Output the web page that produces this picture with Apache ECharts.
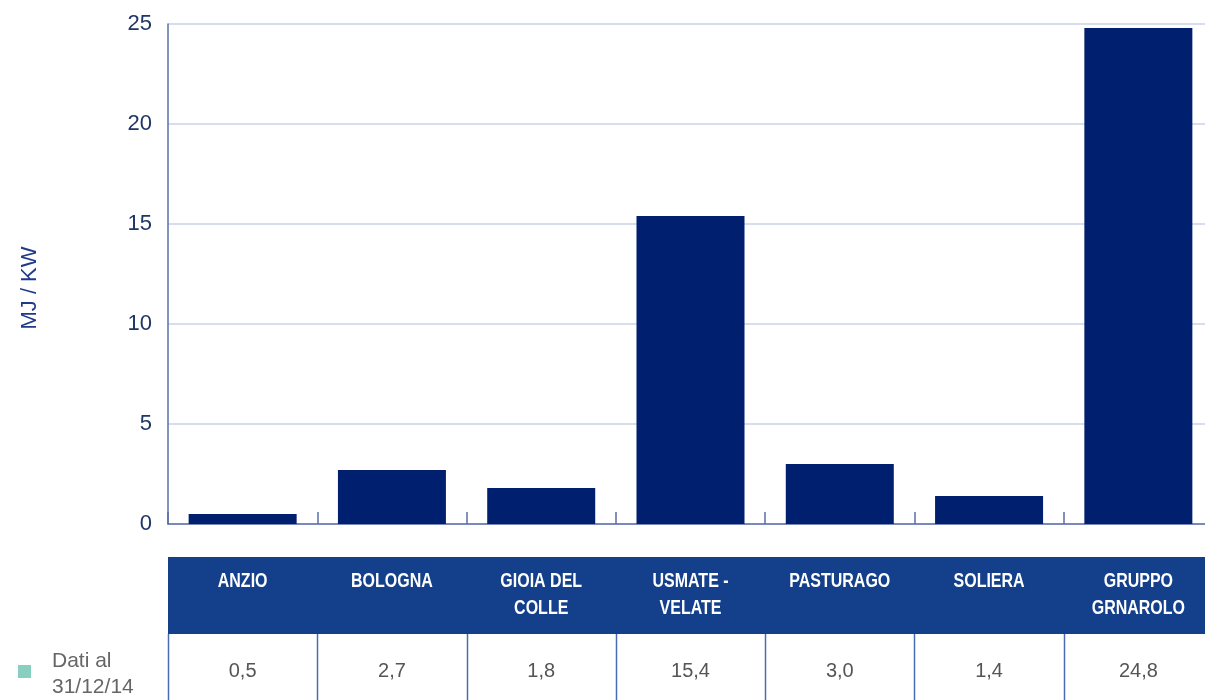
<!DOCTYPE html>
<html><head><meta charset="utf-8">
<script src="https://cdn.jsdelivr.net/npm/echarts@6/dist/echarts.min.js"></script>
<style>html,body{margin:0;padding:0;background:#fff;overflow:hidden;width:1205px;height:700px}#c{width:1213px;height:700px}</style>
</head><body><div id="c"></div>
<script>
const categories = ['ANZIO', 'BOLOGNA', 'GIOIA DEL\nCOLLE', 'USMATE -\nVELATE', 'PASTURAGO', 'SOLIERA', 'GRUPPO\nGRNAROLO'];
const values = [0.5, 2.7, 1.8, 15.4, 3.0, 1.4, 24.8];
const valueLabels = ['0,5', '2,7', '1,8', '15,4', '3,0', '1,4', '24,8'];
const yTicks = [0, 5, 10, 15, 20, 25];
const yName = 'MJ / KW';
const legendLabel = 'Dati al\n31/12/14';

const chart = echarts.init(document.getElementById('c'), null, {renderer: 'canvas'});
const axisColor = '#5b6ea8';
chart.setOption({
  animation: false,
  grid: {left: 168, top: 24, right: 0, bottom: 176, containLabel: false},
  xAxis: {
    type: 'category', data: categories,
    axisLine: {lineStyle: {color: axisColor, width: 1.5}},
    axisTick: {show: true, inside: true, length: 12, lineStyle: {color: axisColor, width: 1.5}},
    axisLabel: {show: false}
  },
  yAxis: {
    type: 'value', min: yTicks[0], max: yTicks[yTicks.length - 1], interval: yTicks[1] - yTicks[0],
    name: yName, nameLocation: 'middle', nameGap: 127,
    nameTextStyle: {color: '#1f3a8a', fontSize: 22, padding: [0, 28, 0, 0], fontFamily: 'Liberation Sans, Arial, sans-serif'},
    axisLine: {show: true, lineStyle: {color: axisColor, width: 1.5}},
    axisTick: {show: false},
    axisLabel: {color: '#1f3566', fontSize: 22, margin: 16, padding: [5, 0, 0, 0], fontFamily: 'Liberation Sans, Arial, sans-serif'},
    splitLine: {lineStyle: {color: '#c8d3e8', width: 1.5}}
  },
  series: [{
    type: 'bar', data: values, barWidth: 108,
    itemStyle: {color: '#011f6f'}
  }]
});

function drawTable() {
  const x0 = chart.convertToPixel({xAxisIndex: 0}, 0);
  const x1 = chart.convertToPixel({xAxisIndex: 0}, 1);
  const band = x1 - x0;
  const left = x0 - band / 2;
  const els = [];
  const headTop = 557, headH = 77, rowTop = headTop + headH, rowBottom = 702;
  els.push({type: 'rect', shape: {x: left, y: headTop, width: band * categories.length, height: headH},
    style: {fill: '#133f8b'}, silent: true});
  categories.forEach((c, i) => {
    const cx = chart.convertToPixel({xAxisIndex: 0}, i);
    els.push({type: 'text', x: cx, y: headTop + 11, scaleX: 0.8, style: {
      text: c, fill: '#ffffff', align: 'center', verticalAlign: 'top',
      font: 'bold 20px "Liberation Sans Narrow", "Liberation Sans", Arial, sans-serif', lineHeight: 27
    }, silent: true});
    els.push({type: 'text', x: cx, y: (rowTop + 708) / 2, style: {
      text: valueLabels[i], fill: '#555555', align: 'center', verticalAlign: 'middle',
      font: '20px "Liberation Sans", Arial, sans-serif'
    }, silent: true});
  });
  for (let i = 0; i <= categories.length; i++) {
    const x = Math.round(left + band * i) + 0.5;
    els.push({type: 'line', shape: {x1: x, y1: rowTop, x2: x, y2: rowBottom},
      style: {stroke: '#4a6cb0', lineWidth: 1.5}, silent: true});
  }
  els.push({type: 'rect', shape: {x: 18, y: 665, width: 13, height: 13}, style: {fill: '#88cfc0'}, silent: true});
  els.push({type: 'text', x: 52, y: 648, style: {
    text: legendLabel, fill: '#666666', align: 'left', verticalAlign: 'top',
    font: '21px "Liberation Sans", Arial, sans-serif', lineHeight: 26
  }, silent: true});
  chart.setOption({graphic: {elements: els}});
}
drawTable();
</script></body></html>
